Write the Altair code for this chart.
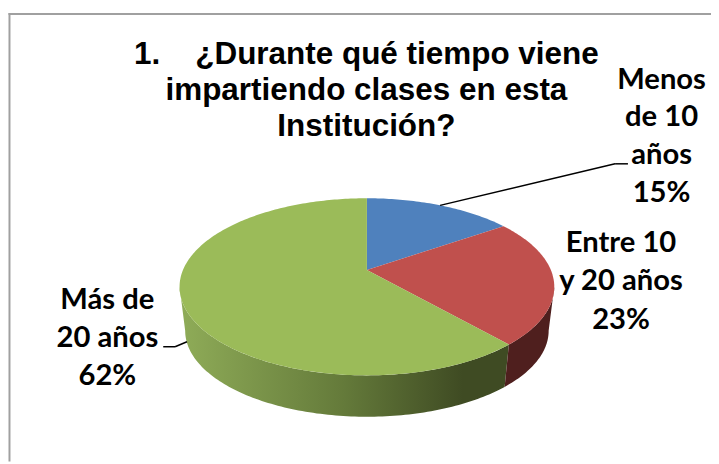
import math
import altair as alt
import numpy as np
import pandas as pd

categories = ["Menos de 10 años", "Entre 10 y 20 años", "Más de 20 años"]
shares = [15.4, 23.1, 61.5]
title_lines = ["1.\u00a0\u00a0\u00a0\u00a0¿Durante qué tiempo viene", "impartiendo clases en esta", "Institución?"]
label_lines = [["Menos", "de 10", "años", "15%"], ["Entre 10", "y 20 años", "23%"], ["Más de", "20 años", "62%"]]
slice_colors = ["#4f81bd", "#c0504d", "#9bbb59"]

M = 8  # page margin
CX, VY, BW, AH, P = 371, 270.3, 186, 86.3, 0.191
DEPTH, SHRINK = 45, 0.97


def project(theta, shrink=1.0, dy=0.0):
    u, v = np.sin(theta), -np.cos(theta)
    d = 1 - P * v
    return (CX + shrink * BW * u / d - M, VY + dy + shrink * AH * v / d - M)


def arc_points(t0, t1, **kw):
    n = max(2, int(abs(t1 - t0) / math.radians(1)))
    ts = np.linspace(t0, t1, n)
    xs, ys = project(ts, **kw)
    return [[float(x), float(y)] for x, y in zip(xs, ys)]


def ring(points):
    return {"type": "Feature", "properties": {}, "geometry": {"type": "Polygon", "coordinates": [points + [points[0]]]}}


def shape(feature, fill):
    data = alt.InlineData(values={"type": "FeatureCollection", "features": [feature]},
                          format=alt.DataFormat(type="json", property="features"))
    return alt.Chart(data).mark_geoshape(fill=fill, strokeWidth=0).project(
        type="identity", scale=1, translate=[0, 0])


cuts = np.cumsum([0] + shares) / sum(shares) * 2 * math.pi
grid = np.radians(np.arange(0, 360, 0.25))
grid_x = project(grid)[0]
t_right = float(grid[np.argmax(grid_x)])
t_left = float(grid[np.argmin(grid_x)])


def side(t0, t1):
    return ring(arc_points(t0, t1) + arc_points(t1, t0, shrink=SHRINK, dy=DEPTH))


def top(t0, t1):
    return ring([[CX - M, VY - M]] + arc_points(t0, t1))


green_side = alt.Gradient(gradient="linear", x1=0, x2=1, y1=0, y2=0, stops=[
    alt.GradientStop(offset=0, color="#8fac58"),
    alt.GradientStop(offset=0.5, color="#647a3a"),
    alt.GradientStop(offset=0.86, color="#3f4b23"),
    alt.GradientStop(offset=1, color="#3f4b23"),
])

layers = [
    shape(side(cuts[2], t_left), green_side),
    shape(side(t_right, cuts[2]), "#4f1f1e"),
]
for i in range(3):
    layers.append(shape(top(cuts[i], cuts[i + 1]), slice_colors[i]))

dummy = pd.DataFrame({"a": [0]})


def rule(x, x2, y, y2, color="black", width=1.5):
    return alt.Chart(dummy).mark_rule(color=color, strokeWidth=width).encode(
        x=alt.value(x - M), x2=alt.value(x2 - M), y=alt.value(y - M), y2=alt.value(y2 - M))


layers += [
    rule(8.5, 719, 11.5, 11.5, "#a0a0a0", 2),
    rule(9.5, 9.5, 10.5, 464, "#a0a0a0", 2),
    rule(445, 622, 205, 163),
    rule(622, 635, 163, 163),
    rule(165, 177, 348, 348),
    rule(177, 189, 348, 343),
]


def text_block(lines, cx, ys, font, size):
    out = []
    for line, y in zip(lines, ys):
        out.append(alt.Chart(pd.DataFrame({"t": [line]})).mark_text(
            font=font, fontSize=size, fontWeight="bold", color="black", align="center", baseline="middle"
        ).encode(text="t:N", x=alt.value(cx - M), y=alt.value(y - M)))
    return out


layers += text_block(title_lines, 370.5, [52.5, 88.5, 125], "Liberation Sans", 31.8)
layers += text_block(label_lines[0], 669, [78, 116, 154, 193], "Lato", 29.5)
layers += text_block(label_lines[1], 628, [243, 282, 321], "Lato", 29.5)
layers += text_block(label_lines[2], 108.5, [301, 339, 378], "Lato", 29.5)

chart = alt.layer(*layers).properties(
    width=711, height=456, padding=0, background="white",
    autosize=alt.AutoSizeParams(type="none"),
).configure_view(stroke=None)

chart.save("out.html", embed_options={"renderer": "svg", "actions": False})
